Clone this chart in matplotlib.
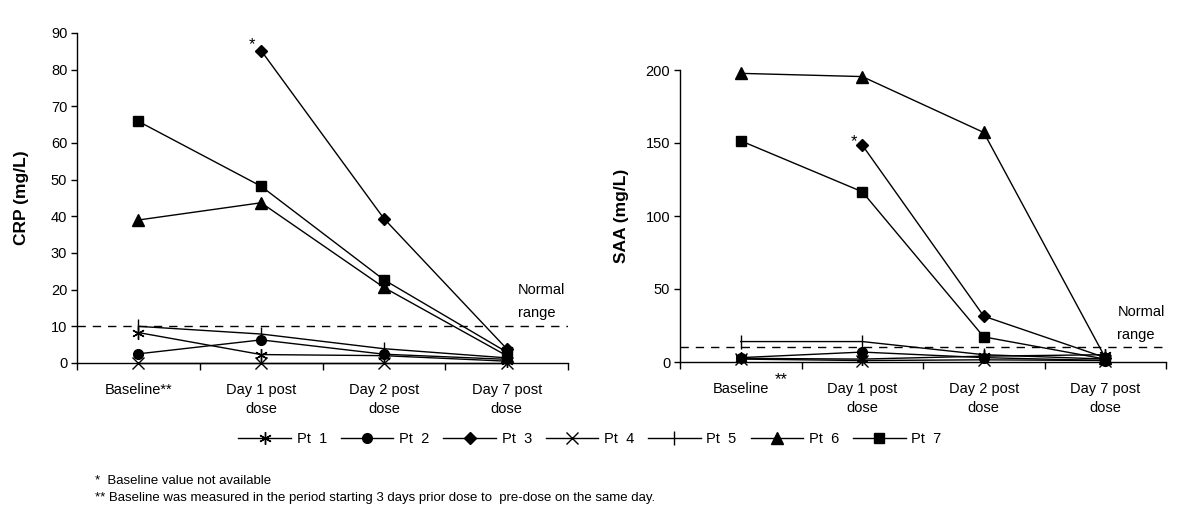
import numpy as np
import matplotlib
matplotlib.use("Agg")
import matplotlib.pyplot as plt

plt.rcParams['font.family'] = ['Liberation Sans', 'DejaVu Sans']

categories = ["Baseline**", "Day 1 post\ndose", "Day 2 post\ndose", "Day 7 post\ndose"]
categories_saa = ["Baseline", "Day 1 post\ndose", "Day 2 post\ndose", "Day 7 post\ndose"]
patients = ["Pt  1", "Pt  2", "Pt  3", "Pt  4", "Pt  5", "Pt  6", "Pt  7"]

crp_pt1 = [8.3, 2.3, 2.0, 0.5]
crp_pt2 = [2.5, 6.3, 2.4, 1.0]
crp_pt3 = [np.nan, 85.2, 39.4, 3.9]
crp_pt4 = [0.0, 0.0, 0.0, 0.0]
crp_pt5 = [10.0, 7.9, 3.9, 1.4]
crp_pt6 = [39.0, 43.7, 20.6, 2.0]
crp_pt7 = [65.9, 48.2, 22.7, 3.0]

saa_pt1 = [2.5, 2.0, 4.0, 5.0]
saa_pt2 = [3.0, 6.8, 3.0, 1.0]
saa_pt3 = [np.nan, 148.6, 31.4, 3.0]
saa_pt4 = [2.0, 1.0, 1.5, 1.0]
saa_pt5 = [14.0, 14.0, 5.0, 2.0]
saa_pt6 = [197.7, 195.5, 157.2, 3.0]
saa_pt7 = [151.5, 116.6, 17.2, 2.0]

normal_crp = 10
normal_saa = 10

crp = [crp_pt1, crp_pt2, crp_pt3, crp_pt4, crp_pt5, crp_pt6, crp_pt7]
saa = [saa_pt1, saa_pt2, saa_pt3, saa_pt4, saa_pt5, saa_pt6, saa_pt7]

styles = [
    dict(marker=(6, 2, 0), markersize=9, markeredgewidth=1.0),
    dict(marker='o', markersize=7),
    dict(marker='D', markersize=6.5),
    dict(marker='x', markersize=9, markeredgewidth=1.0),
    dict(marker='|', markersize=10, markeredgewidth=1.0),
    dict(marker='^', markersize=8.5),
    dict(marker='s', markersize=7),
]

fig = plt.figure(figsize=(12, 5.18), dpi=100)
axL = fig.add_axes([77/1200, 1-363/518, (568-77)/1200, (363-33)/518])
axR = fig.add_axes([680/1200, 1-362/518, (1166-680)/1200, (362-70)/518])

x = np.arange(len(categories))

def setup(ax, data, labels, ylim, yticks, ylabel, normal):
    handles = []
    for vals, st, name in zip(data, styles, patients):
        h, = ax.plot(x, vals, color='black', lw=1.0, markerfacecolor='black',
                     markeredgecolor='black', label=name, clip_on=False, zorder=3, **st)
        handles.append(h)
    ax.axhline(normal, color='black', lw=1.0, ls=(0, (6, 5)), zorder=2)
    ax.set_xlim(-0.5, 3.5)
    ax.set_ylim(*ylim)
    ax.set_yticks(yticks)
    ax.set_xticks(x)
    ax.set_xticklabels(labels, fontsize=10.5, linespacing=1.4)
    ax.set_xticks(np.arange(-0.5, 4.0, 1.0), minor=True)
    ax.tick_params(axis='x', which='major', length=0, pad=14.5)
    ax.tick_params(axis='x', which='minor', length=5, width=1.0, direction='out')
    ax.tick_params(axis='y', length=4, width=1.0, direction='out', labelsize=10.5, pad=3)
    for s in ['top', 'right']:
        ax.spines[s].set_visible(False)
    for s in ['left', 'bottom']:
        ax.spines[s].set_linewidth(1.0)
    ax.set_ylabel(ylabel, fontsize=12.5, fontweight='bold')
    return handles

handles = setup(axL, crp, categories, (0, 90), np.arange(0, 91, 10), "CRP (mg/L)", normal_crp)
setup(axR, saa, categories_saa, (0, 200), np.arange(0, 201, 50), "SAA (mg/L)", normal_saa)

axL.yaxis.set_label_coords(-0.098, 0.5)
axR.yaxis.set_label_coords(-0.105, 0.5)

# Normal range labels
axL.text(3.09, 19.9, "Normal", fontsize=10.5, va='center', ha='left')
axL.text(3.09, 13.6, "range", fontsize=10.5, va='center', ha='left')
axR.text(3.10, 34.0, "Normal", fontsize=10.5, va='center', ha='left')
axR.text(3.10, 18.5, "range", fontsize=10.5, va='center', ha='left')

# asterisks for missing baseline
axL.annotate("*", (1, crp_pt3[1]), xytext=(-9, 6), textcoords='offset pixels',
             fontsize=12, ha='center', va='center')
axR.annotate("*", (1, saa_pt3[1]), xytext=(-8, 3), textcoords='offset pixels',
             fontsize=12, ha='center', va='center')
axR.text(0.33, -0.06, "**", transform=axR.get_xaxis_transform(), fontsize=12,
         ha='center', va='center')

fig.legend(handles=handles, loc='center', bbox_to_anchor=(590/1200, 1-439/518),
           ncol=7, frameon=False, fontsize=10.5, handlelength=3.6, handletextpad=0.4,
           columnspacing=0.95, borderaxespad=0)

fig.text(95/1200, 1-481/518, "*  Baseline value not available", fontsize=9.5, va='center')
fig.text(95/1200, 1-498/518,
         "** Baseline was measured in the period starting 3 days prior dose to  pre-dose on the same day.",
         fontsize=9.5, va='center')

fig.savefig("out.png", dpi=100)
